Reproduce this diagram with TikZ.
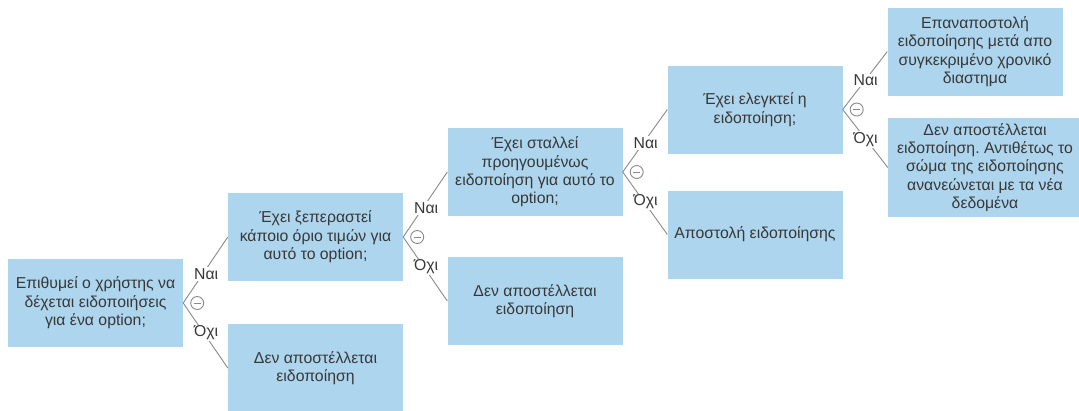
\documentclass[tikz,border=0pt]{standalone}
\usepackage{fontspec}
\setmainfont{Liberation Sans}
\frenchspacing
\definecolor{boxblue}{HTML}{ADD5ED}
\definecolor{txtgray}{HTML}{383838}
\definecolor{linegray}{HTML}{8A8A8A}

\begin{document}
\begin{tikzpicture}[x=1pt, y=-1pt,
  decision/.style={rectangle, fill=boxblue, text=txtgray, align=center,
    minimum width=175, minimum height=88, inner sep=0pt,
    font=\fontsize{15.8}{18.4}\selectfont},
  link/.style={draw=linegray, line width=0.9pt},
  answer/.style={fill=white, text=txtgray, inner sep=1pt,
    font=\fontsize{15.8}{18.4}\selectfont},
  toggle/.style={circle, draw=linegray, fill=white, line width=0.9pt,
    minimum size=13, inner sep=0pt}
]

  % Frame
  \useasboundingbox (0,0) rectangle (1079,410);
  \clip (0,0) rectangle (1079,410);

  % Decision boxes
  \node[decision] (wants) at (95.5,303) {Επιθυμεί ο χρήστης να\\δέχεται ειδοποιήσεις\\για ένα option;};
  \node[decision] (limit) at (315.5,237) {Έχει ξεπεραστεί\\κάποιο όριο τιμών για\\αυτό το option;};
  \node[decision] (nosendA) at (315.5,368) {Δεν αποστέλλεται\\ειδοποίηση};
  \node[decision] (sent) at (535,172) {Έχει σταλλεί\\προηγουμένως\\ειδοποίηση για αυτό το\\option;};
  \node[decision] (nosendB) at (535,301) {Δεν αποστέλλεται\\ειδοποίηση};
  \node[decision] (checked) at (755,109.5) {Έχει ελεγκτεί η\\ειδοποίηση;};
  \node[decision] (send) at (755,234.5) {Αποστολή ειδοποίησης};
  \node[decision] (resend) at (975,51.5) {Επαναποστολή\\ειδοποίησης μετά απο\\συγκεκριμένο χρονικό\\διαστημα};
  \node[decision, minimum width=194, minimum height=99] (renew) at (985,167.5)
    {Δεν αποστέλλεται\\ειδοποίηση. Αντιθέτως το\\σώμα της ειδοποίησης\\ανανεώνεται με τα νέα\\δεδομένα};

  % Branches
  \foreach \p/\yes/\no in {wants/limit/nosendA, limit/sent/nosendB,
                           sent/checked/send, checked/resend/renew} {
    \draw[link] (\p.east) -- (\yes.west);
    \draw[link] (\p.east) -- (\no.west);
    \node[answer] (yes-\p) at ([shift={(23,-29)}]\p.east) {Ναι};
    \node[answer] (no-\p) at ([shift={(23,30)}]\p.east) {Όχι};
    \node[toggle] (tog-\p) at ([shift={(14,0)}]\p.east) {};
    \draw[link] ([xshift=-3.5]tog-\p.center) -- ([xshift=3.5]tog-\p.center);
  }

\end{tikzpicture}
\end{document}
